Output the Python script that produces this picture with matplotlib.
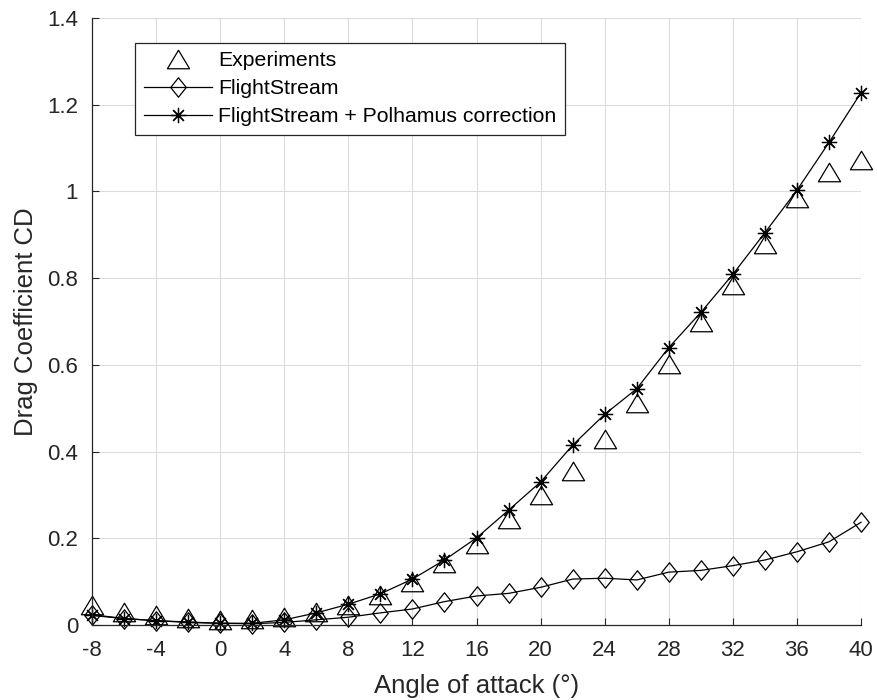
import numpy as np
import matplotlib.pyplot as plt
from matplotlib.path import Path

plt.rcParams['font.family'] = ['Liberation Sans', 'DejaVu Sans']
plt.rcParams['axes.unicode_minus'] = False

alpha = [-8, -6, -4, -2, 0, 2, 4, 6, 8, 10, 12, 14, 16, 18, 20, 22, 24,
         26, 28, 30, 32, 34, 36, 38, 40]

cd_exp = [0.046, 0.030, 0.023, 0.017, 0.012, 0.014, 0.019, 0.031, 0.046,
          0.069, 0.099, 0.143, 0.186, 0.244, 0.300, 0.356, 0.430, 0.511,
          0.603, 0.700, 0.784, 0.880, 0.985, 1.045, 1.072]

cd_fs = [0.022, 0.015, 0.010, 0.007, 0.004, 0.003, 0.006, 0.012, 0.018,
         0.028, 0.037, 0.054, 0.067, 0.073, 0.087, 0.106, 0.108, 0.104,
         0.122, 0.126, 0.137, 0.150, 0.169, 0.192, 0.237]

cd_pol = [0.024, 0.015, 0.010, 0.006, 0.004, 0.004, 0.012, 0.028, 0.048,
          0.072, 0.106, 0.150, 0.201, 0.265, 0.330, 0.415, 0.486, 0.545,
          0.640, 0.721, 0.809, 0.905, 1.003, 1.113, 1.228]

# matlab-like marker shapes (wide triangle, tall diamond)
tri = Path([(-0.6, -0.5), (0.6, -0.5), (0, 0.5), (-0.6, -0.5)],
           [Path.MOVETO, Path.LINETO, Path.LINETO, Path.CLOSEPOLY])
dia = Path([(0, -0.5), (0.4, 0), (0, 0.5), (-0.4, 0), (0, -0.5)],
           [Path.MOVETO, Path.LINETO, Path.LINETO, Path.LINETO, Path.CLOSEPOLY])

fig = plt.figure(figsize=(8.78, 7.0), dpi=100)
ax = fig.add_axes([0.1048, 0.1071, 0.8759, 0.8671])

ax.plot(alpha, cd_exp, linestyle='none', marker=tri, ms=16, mfc='none',
        mec='black', mew=0.9, clip_on=False, label='Experiments')
ax.plot(alpha, cd_fs, color='black', lw=0.9, marker=dia, ms=14, mfc='none',
        mec='black', mew=0.9, clip_on=False, label='FlightStream')
ax.plot(alpha, cd_pol, color='black', lw=0.9, marker=(8, 2, 0), ms=11,
        mew=0.9, clip_on=False, label='FlightStream + Polhamus correction')

ax.set_xlim(-8, 40)
ax.set_ylim(0, 1.4)
ax.set_xticks(np.arange(-8, 41, 4))
ax.set_yticks(np.arange(0, 1.41, 0.2))
ax.set_yticklabels(['0', '0.2', '0.4', '0.6', '0.8', '1', '1.2', '1.4'])
ax.tick_params(direction='in', length=5, labelsize=16, colors='#262626',
               top=False, right=False)
ax.tick_params(axis='x', pad=11)
ax.tick_params(axis='y', pad=10)
ax.grid(True, color='#dcdcdc', lw=0.8)
ax.set_axisbelow(True)
for s in ['top', 'right']:
    ax.spines[s].set_visible(False)
for s in ['left', 'bottom']:
    ax.spines[s].set_color('#262626')
    ax.spines[s].set_linewidth(0.9)

ax.set_xlabel('Angle of attack (°)', fontsize=18.5, color='#262626')
ax.set_ylabel('Drag Coefficient CD', fontsize=18.5, color='#262626')
ax.xaxis.set_label_coords(0.5, -0.08)
ax.yaxis.set_label_coords(-0.07, 0.5)

leg = ax.legend(loc='upper left', bbox_to_anchor=(0.056, 0.959), fontsize=15.3,
                fancybox=False, edgecolor='#262626', framealpha=1,
                handlelength=3.2, borderpad=0.4, labelspacing=0.42,
                handletextpad=0.3, borderaxespad=0)
leg.get_frame().set_linewidth(0.9)

fig.savefig('out.png', dpi=100)
